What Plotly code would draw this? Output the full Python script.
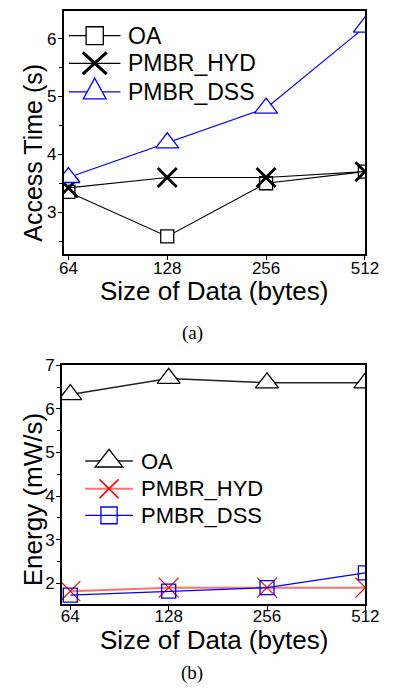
import plotly.graph_objects as go

# ---------------- data ----------------
sizes = ["64", "128", "256", "512"]
series_names = ["OA", "PMBR_HYD", "PMBR_DSS"]

# (a) Access Time (s)
time_oa = [3.35, 2.58, 3.50, 3.70]
time_hyd = [3.42, 3.60, 3.60, 3.70]
time_dss = [3.60, 4.20, 4.80, 6.20]

# (b) Energy (mW/s)
energy_oa = [6.33, 6.70, 6.60, 6.60]
energy_hyd = [1.82, 1.90, 1.90, 1.90]
energy_dss = [1.73, 1.82, 1.90, 2.24]

W, H = 398, 697
FONT = "Liberation Sans, Arial, sans-serif"


def py(px):
    return 1 - px / H


def px_x(px):
    return px / W


top_styles = [
    dict(lc="black", lw=1.2, sym="square", ms=13, fill="white", ec="black", ew=1.3),
    dict(lc="black", lw=1.2, sym="x-thin", ms=19, fill="black", ec="black", ew=2.8),
    dict(lc="#0000ff", lw=1.2, sym="triangle-up", ms=20, fill="white", ec="#0000ff", ew=1.3),
]
bot_styles = [
    dict(lc="#222222", lw=1.5, sym="triangle-up", ms=20, fill="white", ec="black", ew=1.3),
    dict(lc="#ff7070", lw=2.0, sym="x-thin", ms=20, fill="#ff0000", ec="#ff0000", ew=1.2),
    dict(lc="#0000ff", lw=1.3, sym="square-open", ms=14, fill="#0000ff", ec="#0000ff", ew=1.3),
]

fig = go.Figure()

for name, ys, st in zip(series_names, [time_oa, time_hyd, time_dss], top_styles):
    fig.add_trace(go.Scatter(
        x=sizes, y=ys, name=name, mode="lines+markers", showlegend=False,
        line=dict(color=st["lc"], width=st["lw"]),
        marker=dict(symbol=st["sym"], size=st["ms"], color=st["fill"],
                    line=dict(color=st["ec"], width=st["ew"])),
        xaxis="x", yaxis="y"))

for name, ys, st in zip(series_names, [energy_oa, energy_hyd, energy_dss], bot_styles):
    fig.add_trace(go.Scatter(
        x=sizes, y=ys, name=name, mode="lines+markers", showlegend=False,
        line=dict(color=st["lc"], width=st["lw"]),
        marker=dict(symbol=st["sym"], size=st["ms"], color=st["fill"],
                    line=dict(color=st["ec"], width=st["ew"])),
        xaxis="x2", yaxis="y2"))

axis_common = dict(
    showline=True, linecolor="black", linewidth=1.5, mirror=True,
    ticks="outside", ticklen=4, tickwidth=1, tickcolor="black",
    showgrid=False, zeroline=False,
    tickfont=dict(family=FONT, size=17, color="black"),
)

fig.update_layout(
    width=W, height=H,
    margin=dict(l=0, r=0, t=0, b=0),
    paper_bgcolor="white", plot_bgcolor="white",
    font=dict(family=FONT, color="black"),
    showlegend=False,
    xaxis=dict(domain=[px_x(62.5), px_x(378)], type="category",
               range=[-0.048, 3], anchor="y", ticklabelstandoff=-6,
               **axis_common),
    yaxis=dict(domain=[py(248), py(2)], range=[2.28, 6.48], dtick=1,
               anchor="x", ticklabelstandoff=-2,
               minor=dict(dtick=0.5, ticks="outside", ticklen=3,
                          tickcolor="black"),
               **axis_common),
    xaxis2=dict(domain=[px_x(60.5), px_x(378.5)], type="category",
                range=[-0.087, 3], anchor="y2", ticklabelstandoff=-8,
                **axis_common),
    yaxis2=dict(domain=[py(603), py(361)], range=[1.52, 7.0], dtick=1,
                anchor="x2", ticklabelstandoff=-2,
                minor=dict(dtick=0.5, ticks="outside", ticklen=3,
                           tickcolor="black"),
                **axis_common),
)

# ---------------- custom legends (layout shapes + text) ----------------
shapes = []
annotations = []


def legend_entry(y, x0, x1, xm, xt, name, st, fsize, sq, tw, th, xw, xh):
    shapes.append(dict(type="line", xref="paper", yref="paper",
                       x0=px_x(x0), x1=px_x(x1), y0=py(y), y1=py(y),
                       line=dict(color=st["lc"], width=st["lw"])))
    sym = st["sym"]
    if sym.startswith("square"):
        fill = "white" if sym == "square" else "rgba(0,0,0,0)"
        shapes.append(dict(type="rect", xref="paper", yref="paper",
                           x0=px_x(xm - sq / 2), x1=px_x(xm + sq / 2),
                           y0=py(y + sq / 2), y1=py(y - sq / 2),
                           fillcolor=fill,
                           line=dict(color=st["ec"], width=st["ew"])))
    elif sym.startswith("triangle"):
        base = y + th / 3
        apex = y - 2 * th / 3
        path = "M {a},{b} L {c},{d} L {e},{f} Z".format(
            a=px_x(xm - tw / 2), b=py(base), c=px_x(xm + tw / 2), d=py(base),
            e=px_x(xm), f=py(apex))
        shapes.append(dict(type="path", xref="paper", yref="paper", path=path,
                           fillcolor="white",
                           line=dict(color=st["ec"], width=st["ew"])))
    else:
        path = "M {a},{b} L {c},{d} M {a},{d} L {c},{b}".format(
            a=px_x(xm - xw / 2), b=py(y - xh / 2),
            c=px_x(xm + xw / 2), d=py(y + xh / 2))
        shapes.append(dict(type="path", xref="paper", yref="paper", path=path,
                           line=dict(color=st["ec"], width=st["ew"] + 0.3)))
    annotations.append(dict(text=name, x=px_x(xt), y=py(y), xanchor="left",
                            yanchor="middle",
                            font=dict(family=FONT, size=fsize, color="black")))


for name, st, y in zip(series_names, top_styles, [27, 55, 84]):
    legend_entry(y, 68, 122, 95, 128, name, st, 23, sq=18, tw=24, th=21, xw=25, xh=22)

for name, st, y in zip(series_names, bot_styles, [458, 486, 513]):
    legend_entry(y, 85, 135, 110, 141, name, st, 22, sq=17, tw=29, th=18, xw=20, xh=19)

annotations += [
    dict(text="Access Time (s)", x=px_x(30), y=py(146), textangle=-90,
         font=dict(family=FONT, size=25, color="black")),
    dict(text="Size of Data (bytes)", x=px_x(220), y=py(286),
         font=dict(family=FONT, size=26, color="black")),
    dict(text="(a)", x=px_x(197), y=py(328),
         font=dict(family="Liberation Serif, serif", size=19, color="black")),
    dict(text="Energy (mW/s)", x=px_x(30), y=py(497), textangle=-90,
         font=dict(family=FONT, size=26, color="black")),
    dict(text="Size of Data (bytes)", x=px_x(220), y=py(639),
         font=dict(family=FONT, size=26, color="black")),
    dict(text="(b)", x=px_x(197), y=py(673),
         font=dict(family="Liberation Serif, serif", size=19, color="black")),
]
for a in annotations:
    a.setdefault("xanchor", "center")
    a.setdefault("yanchor", "middle")
    a.update(xref="paper", yref="paper", showarrow=False)

fig.update_layout(annotations=annotations, shapes=shapes)

fig.write_html("out.html")
